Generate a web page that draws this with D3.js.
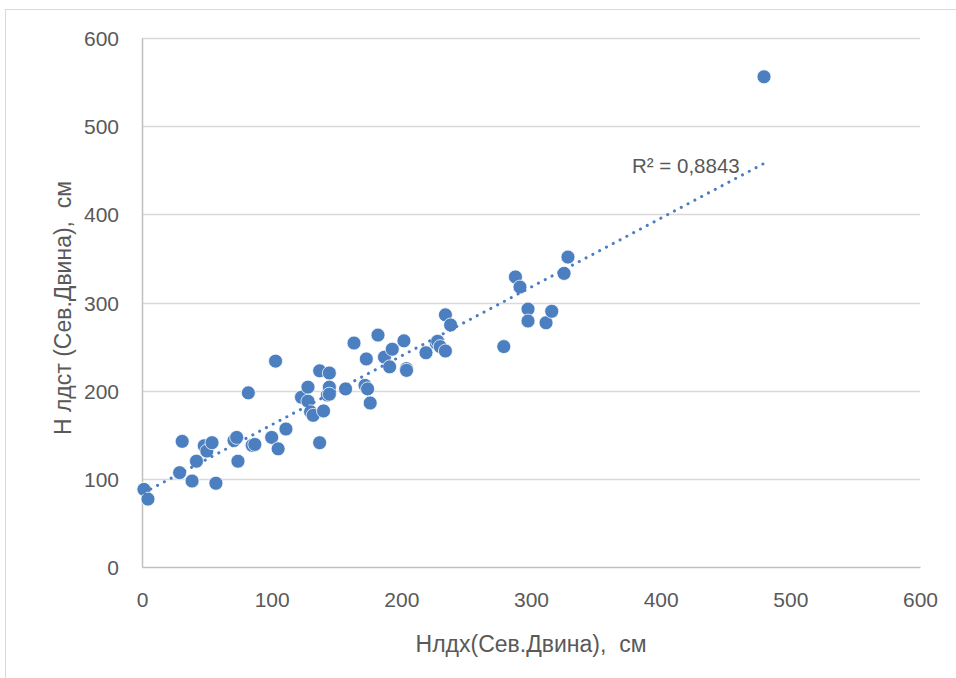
<!DOCTYPE html>
<html>
<head>
<meta charset="utf-8">
<script src="https://cdn.jsdelivr.net/npm/d3@7"></script>
<style>
  html, body { margin: 0; padding: 0; background: #fff; }
  svg { display: block; }
  text { font-family: "Liberation Sans", Arial, sans-serif; fill: #595959; white-space: pre; }
</style>
</head>
<body>
<script>
// Water levels: Нлдх (x) vs Н лдст (y), Северная Двина, cm
const xValues = [1.5, 4.6, 31, 29, 38.6, 42, 48, 50, 54, 57, 71, 73, 74, 82, 85, 87, 100, 103, 105, 111,
  123, 128, 128, 130, 132, 137, 137, 140, 143, 144.5, 144.5, 144.5, 157, 163.5, 173, 172, 174, 176, 182, 187,
  191, 193, 202, 204, 204, 219, 227, 228, 230, 234, 234, 238, 279, 288, 291.5, 297.7, 297.7, 311.6, 316, 325.5,
  328.5, 479.7];
const yValues = [88, 77, 142.5, 107, 97.5, 120, 137.5, 131.5, 141, 95, 143.5, 147, 120, 197.5, 138, 139, 147, 233.5, 134, 156.5,
  192.5, 204, 188, 176, 172, 141, 222.5, 177, 195, 220, 204, 196, 202, 254, 236, 206, 202, 186, 263, 238,
  227, 247, 256.5, 225, 223, 243, 254, 256, 250, 286, 245, 274.5, 250, 329, 317.5, 292.5, 279, 277, 290, 333,
  351.5, 556];
const xTicks = [0, 100, 200, 300, 400, 500, 600];
const yTicks = [0, 100, 200, 300, 400, 500, 600];
const xTitle = "Нлдх(Сев.Двина),  см";
const yTitle = "Н лдст (Сев.Двина),  см";
const r2Label = "R² = 0,8843";

const W = 956, H = 678;
const plot = { left: 142, right: 920, top: 38, bottom: 567 };
const FONT = "'Liberation Sans', Arial, sans-serif";

const svg = d3.select("body").append("svg").attr("width", W).attr("height", H);

// chart frame
svg.append("rect")
  .attr("x", 5.5).attr("y", 9.5).attr("width", 1000).attr("height", 1000)
  .attr("fill", "none").attr("stroke", "#d9d9d9").attr("stroke-width", 1);

const x = d3.scaleLinear().domain([0, 600]).range([plot.left, plot.right]);
const y = d3.scaleLinear().domain([0, 600]).range([plot.bottom, plot.top]);

// horizontal gridlines
svg.append("g")
  .selectAll("line").data(yTicks.filter(d => d > 0)).join("line")
  .attr("x1", plot.left).attr("x2", plot.right)
  .attr("y1", d => Math.round(y(d)) + 0.5).attr("y2", d => Math.round(y(d)) + 0.5)
  .attr("stroke", "#d9d9d9").attr("stroke-width", 1.5);

// y axis
const yAxis = svg.append("g")
  .attr("transform", `translate(${plot.left},0)`)
  .call(d3.axisLeft(y).tickValues(yTicks).tickSize(0).tickPadding(23));
yAxis.select(".domain").attr("stroke", "#bfbfbf").attr("stroke-width", 1.5);
yAxis.selectAll("text").style("font-size", "21px").attr("fill", "#595959")
  .style("font-family", FONT).attr("dy", "0.36em");

// x axis
const xAxis = svg.append("g")
  .attr("transform", `translate(0,${plot.bottom})`)
  .call(d3.axisBottom(x).tickValues(xTicks).tickSize(0).tickPadding(25));
xAxis.select(".domain").attr("stroke", "#bfbfbf").attr("stroke-width", 1.5);
xAxis.selectAll("text").style("font-size", "21px").attr("fill", "#595959")
  .style("font-family", FONT);

// axis titles
svg.append("text")
  .attr("x", 531).attr("y", 652).attr("text-anchor", "middle")
  .style("font-size", "23px").text(xTitle);
svg.append("text")
  .attr("transform", `translate(71,308) rotate(-90)`).attr("text-anchor", "middle")
  .style("font-size", "23px").text(yTitle);

// linear trendline (least squares)
const pts = xValues.map((v, i) => [v, yValues[i]]);
const mx = d3.mean(xValues), my = d3.mean(yValues);
const slope = d3.sum(pts, p => (p[0] - mx) * (p[1] - my)) / d3.sum(pts, p => (p[0] - mx) ** 2);
const intercept = my - slope * mx;
const [x0, x1] = d3.extent(xValues);

// points
svg.append("g")
  .selectAll("circle").data(pts).join("circle")
  .attr("cx", d => x(d[0])).attr("cy", d => y(d[1])).attr("r", 7)
  .attr("fill", "#4b7fc0").attr("stroke", "#ffffff").attr("stroke-width", 0.75);

svg.append("line")
  .attr("x1", x(x0)).attr("y1", y(intercept + slope * x0))
  .attr("x2", x(x1)).attr("y2", y(intercept + slope * x1))
  .attr("stroke", "#4a7ec0").attr("stroke-width", 3)
  .attr("stroke-linecap", "round").attr("stroke-dasharray", "0.1 7.6");

svg.append("text")
  .attr("x", 632).attr("y", 173)
  .style("font-size", "20.5px").attr("fill", "#404040").text(r2Label);
</script>
</body>
</html>
